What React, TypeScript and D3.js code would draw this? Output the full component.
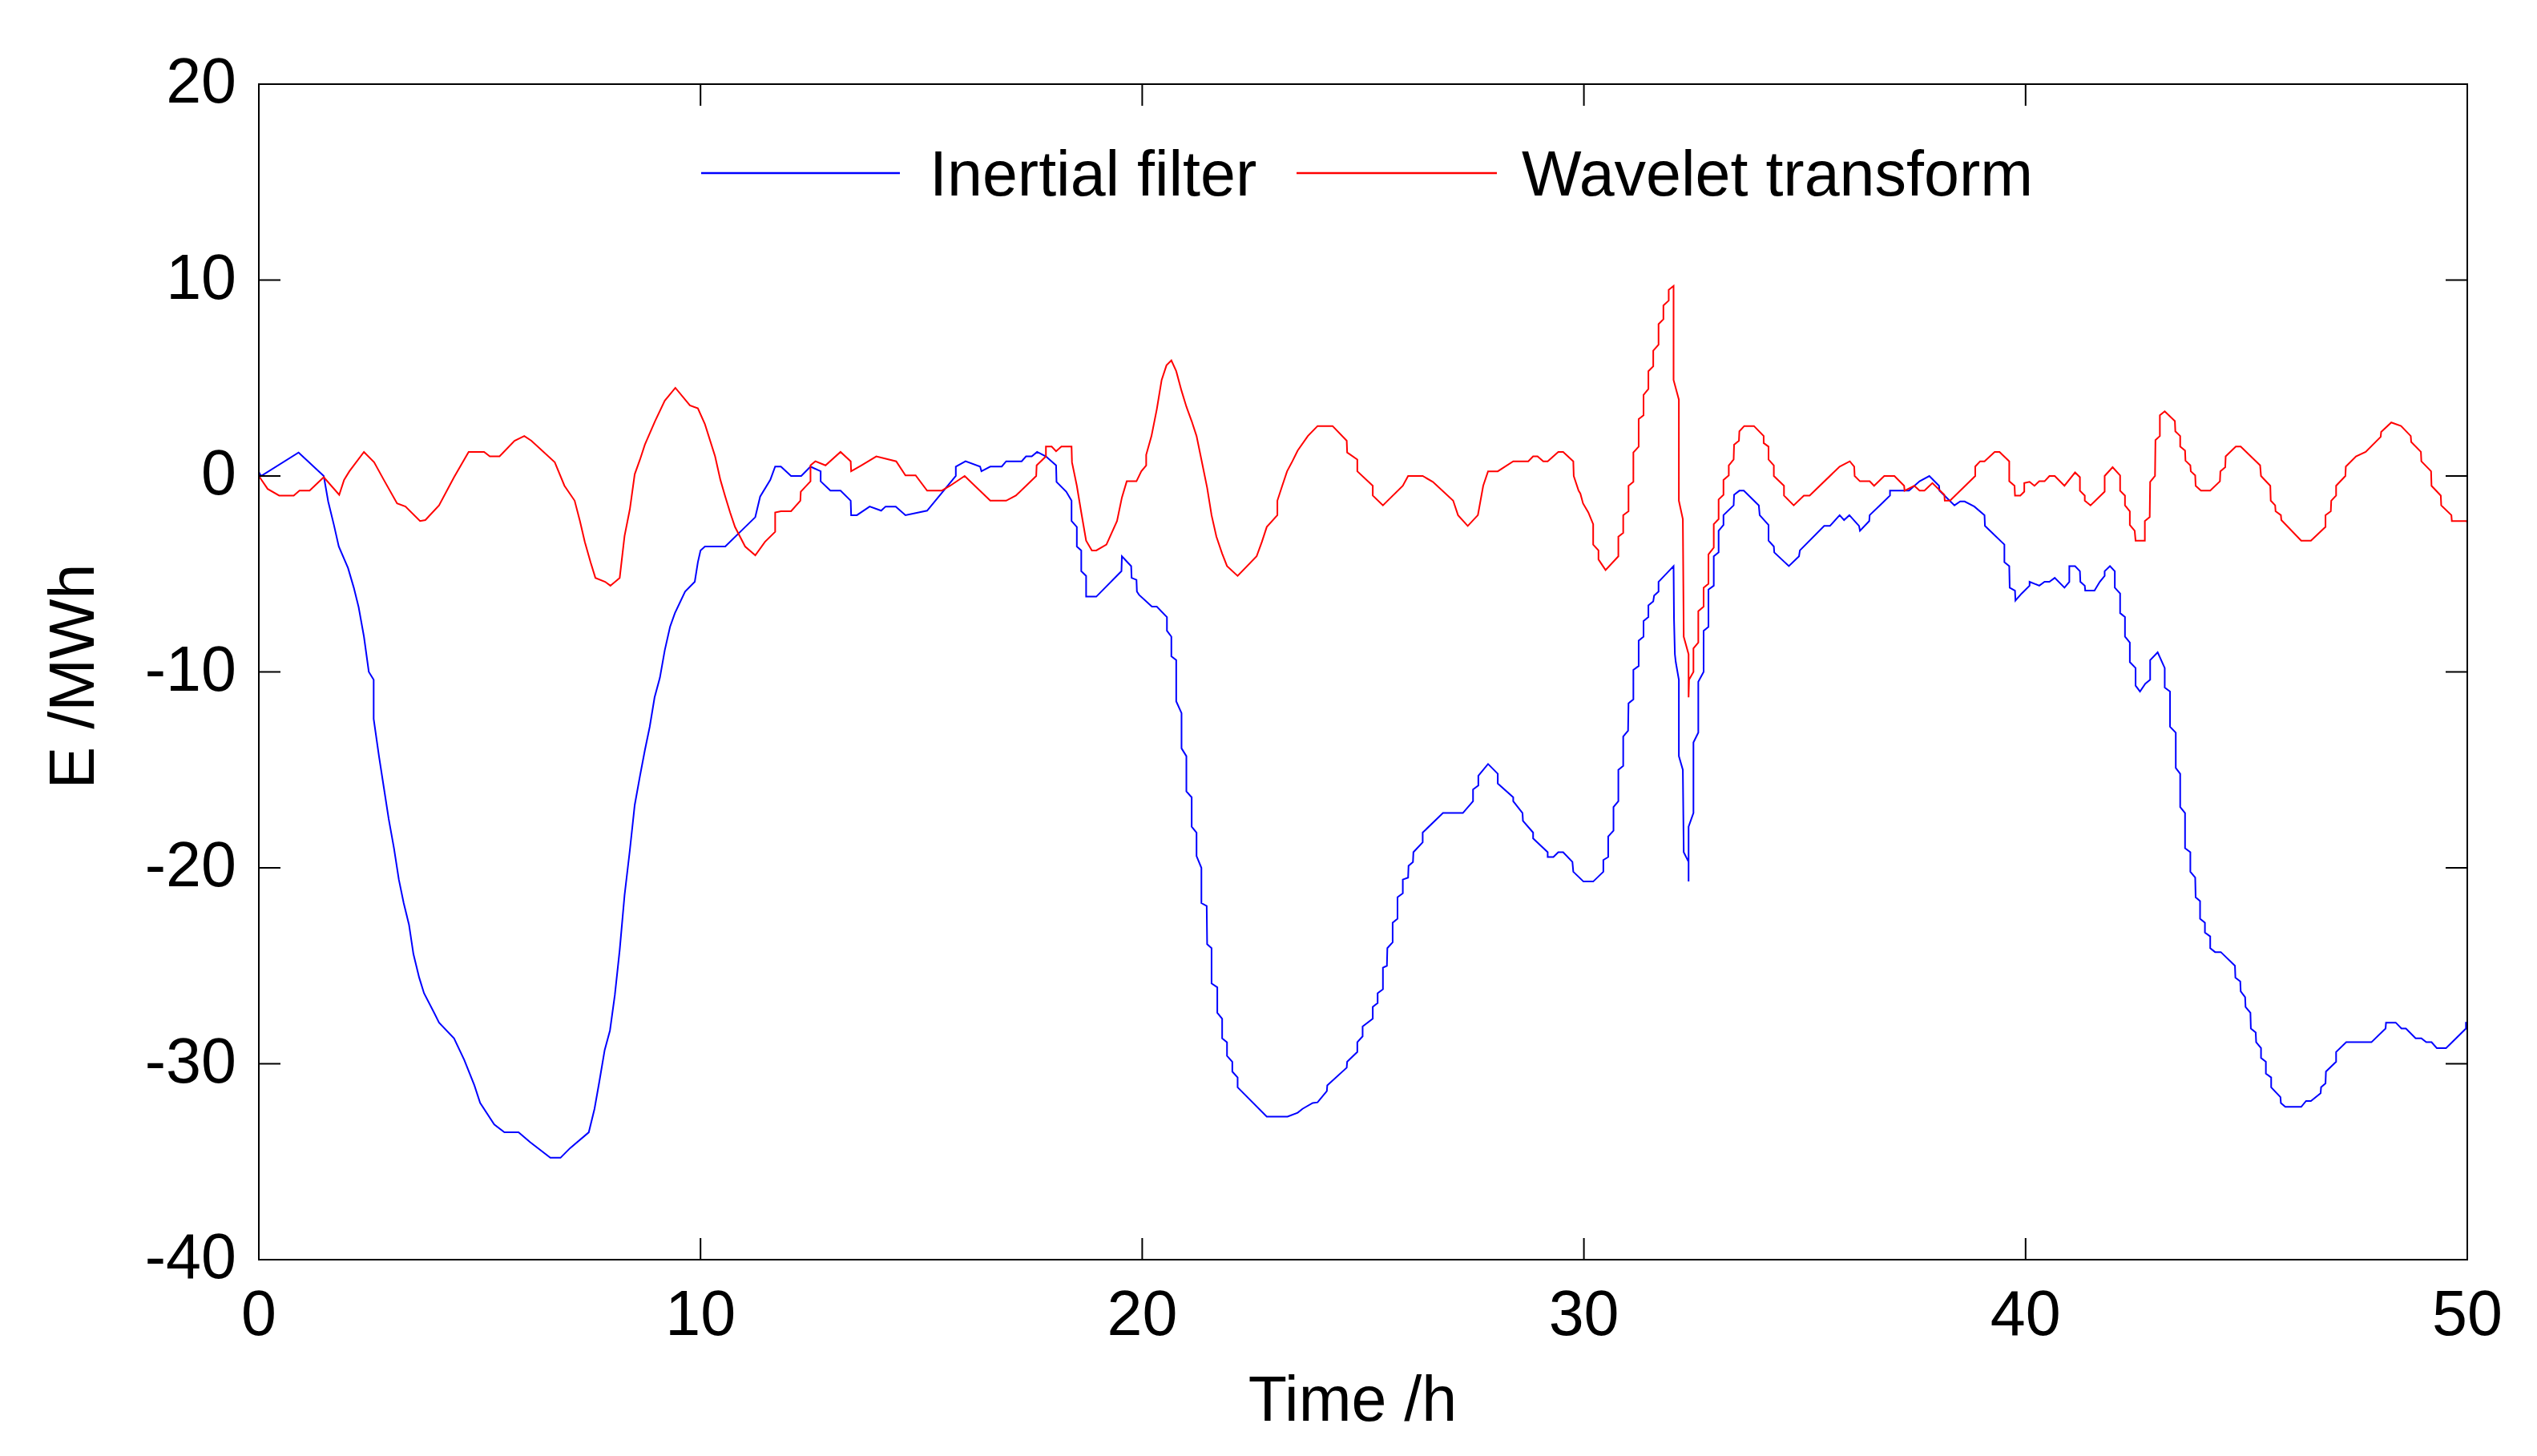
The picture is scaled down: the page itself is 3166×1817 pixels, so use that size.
import React from 'react';
import * as d3 from 'd3';

// Stored energy E (MWh) against time (h): [hour, MWh]
const inertialFilter: [number, number][] = [
  [0, 0.2], [0.05, 0], [0.9, 1.2], [1.47, 0], [1.57, -1.3], [1.7, -2.5], [1.81, -3.6], [2.02, -4.7],
  [2.15, -5.7], [2.26, -6.7], [2.38, -8.2], [2.49, -10], [2.6, -10.4], [2.6, -12.4], [2.72, -14.3],
  [2.83, -15.9], [2.94, -17.5], [3.06, -19], [3.17, -20.6], [3.28, -21.8], [3.4, -22.9], [3.5, -24.4],
  [3.63, -25.6], [3.74, -26.4], [3.97, -27.4], [4.08, -27.9], [4.42, -28.7], [4.65, -29.8], [4.88, -31.1],
  [5.01, -32], [5.33, -33.1], [5.56, -33.5], [5.88, -33.5], [6.14, -34], [6.6, -34.8], [6.83, -34.8],
  [7.05, -34.3], [7.47, -33.5], [7.6, -32.3], [7.71, -30.9], [7.83, -29.3], [7.95, -28.3], [8.06, -26.5],
  [8.17, -24.2], [8.28, -21.4], [8.4, -19.1], [8.51, -16.8], [8.63, -15.3], [8.74, -14], [8.85, -12.8],
  [8.96, -11.3], [9.08, -10.3], [9.19, -8.9], [9.31, -7.7], [9.42, -7], [9.65, -5.9], [9.87, -5.4],
  [9.94, -4.4], [10.0, -3.8], [10.1, -3.6], [10.56, -3.6], [11.24, -2.1], [11.35, -1.05], [11.58, -0.2],
  [11.69, 0.48], [11.82, 0.48], [12.05, 0], [12.28, 0], [12.49, 0.48], [12.72, 0.24], [12.72, -0.27],
  [12.94, -0.75], [13.17, -0.75], [13.4, -1.26], [13.41, -2], [13.54, -2], [13.83, -1.56], [14.09, -1.77],
  [14.19, -1.56], [14.42, -1.56], [14.64, -2], [15.13, -1.77], [15.78, 0], [15.78, 0.48], [16.0, 0.75],
  [16.33, 0.48], [16.36, 0.24], [16.56, 0.48], [16.82, 0.48], [16.92, 0.75], [17.27, 0.75], [17.37, 1.0],
  [17.5, 1.0], [17.62, 1.23], [17.82, 1.0], [18.05, 0.54], [18.06, -0.3], [18.28, -0.8], [18.4, -1.26],
  [18.4, -2.3], [18.52, -2.6], [18.52, -3.6], [18.62, -3.8], [18.62, -4.86], [18.73, -5.1], [18.73, -6.16],
  [18.96, -6.16], [19.53, -4.86], [19.54, -4.1], [19.75, -4.6], [19.76, -5.2], [19.87, -5.3], [19.88, -5.9],
  [19.93, -6.07], [20.22, -6.67], [20.33, -6.67], [20.56, -7.2], [20.56, -7.9], [20.66, -8.2], [20.66, -9.2],
  [20.77, -9.4], [20.77, -11.5], [20.89, -12.1], [20.89, -13.9], [21.0, -14.3], [21.0, -16.1], [21.12, -16.4],
  [21.12, -17.9], [21.23, -18.2], [21.23, -19.4], [21.34, -20], [21.34, -21.8], [21.46, -21.95],
  [21.47, -23.9], [21.57, -24.1], [21.57, -25.9], [21.7, -26.1], [21.7, -27.4], [21.81, -27.7],
  [21.81, -28.7], [21.92, -28.9], [21.92, -29.6], [22.04, -29.9], [22.04, -30.4], [22.16, -30.7],
  [22.16, -31.2], [22.82, -32.7], [23.29, -32.7], [23.52, -32.5], [23.63, -32.3], [23.86, -32.0],
  [23.97, -31.97], [24.18, -31.4], [24.19, -31.1], [24.63, -30.2], [24.64, -29.9], [24.87, -29.4],
  [24.87, -28.9], [24.99, -28.6], [24.99, -28.1], [25.22, -27.7], [25.22, -27.1], [25.33, -26.9],
  [25.33, -26.4], [25.45, -26.2], [25.45, -25.1], [25.54, -25], [25.55, -24.1], [25.67, -23.8],
  [25.67, -22.8], [25.78, -22.6], [25.78, -21.5], [25.9, -21.3], [25.9, -20.6], [26.02, -20.5],
  [26.03, -19.9], [26.13, -19.7], [26.14, -19.2], [26.35, -18.7], [26.35, -18.2], [26.81, -17.2],
  [27.26, -17.2], [27.49, -16.6], [27.49, -16.0], [27.61, -15.8], [27.61, -15.3], [27.83, -14.7],
  [28.05, -15.2], [28.05, -15.7], [28.4, -16.4], [28.4, -16.6], [28.61, -17.2], [28.62, -17.6],
  [28.85, -18.2], [28.85, -18.5], [29.18, -19.2], [29.18, -19.45], [29.31, -19.45], [29.42, -19.2],
  [29.53, -19.2], [29.74, -19.7], [29.76, -20.2], [29.99, -20.7], [30.21, -20.7], [30.44, -20.2],
  [30.44, -19.6], [30.55, -19.45], [30.55, -18.4], [30.67, -18.1], [30.67, -16.9], [30.78, -16.6],
  [30.78, -15], [30.89, -14.8], [30.89, -13.3], [31.0, -13.0], [31.01, -11.6], [31.12, -11.4],
  [31.12, -9.9], [31.24, -9.7], [31.24, -8.4], [31.35, -8.2], [31.35, -7.4], [31.46, -7.2], [31.46, -6.6],
  [31.57, -6.4], [31.59, -6.1], [31.69, -5.9], [31.69, -5.4], [31.92, -4.86], [32.03, -4.6],
  [32.04, -7.3], [32.06, -9.1], [32.08, -9.5], [32.15, -10.4], [32.15, -14.3], [32.24, -15],
  [32.26, -19.2], [32.37, -19.7], [32.37, -20.7], [32.37, -17.9], [32.48, -17.2], [32.48, -13.6],
  [32.59, -13.1], [32.59, -10.5], [32.71, -10], [32.71, -7.9], [32.82, -7.7], [32.82, -5.8],
  [32.94, -5.6], [32.94, -4.1], [33.05, -3.9], [33.05, -2.8], [33.16, -2.5], [33.16, -2.0], [33.39, -1.5],
  [33.4, -0.96], [33.52, -0.75], [33.62, -0.75], [33.96, -1.5], [33.98, -2.0], [34.18, -2.5],
  [34.18, -3.3], [34.3, -3.6], [34.31, -3.9], [34.64, -4.6], [34.87, -4.1], [34.89, -3.8], [35.44, -2.55],
  [35.57, -2.55], [35.79, -2.0], [35.89, -2.25], [36.01, -2.0], [36.23, -2.55], [36.25, -2.8],
  [36.46, -2.3], [36.47, -2.0], [36.7, -1.5], [36.93, -1.0], [36.93, -0.75], [37.36, -0.75], [37.6, -0.27],
  [37.82, 0], [38.04, -0.5], [38.05, -0.75], [38.39, -1.5], [38.52, -1.3], [38.62, -1.3], [38.84, -1.56],
  [39.07, -2.0], [39.08, -2.55], [39.52, -3.5], [39.52, -4.4], [39.63, -4.6], [39.64, -5.7],
  [39.76, -5.85], [39.77, -6.36], [39.91, -6.0], [40.09, -5.6], [40.09, -5.4], [40.31, -5.6],
  [40.43, -5.4], [40.54, -5.4], [40.66, -5.2], [40.88, -5.7], [40.99, -5.4], [40.99, -4.6], [41.12, -4.6],
  [41.23, -4.86], [41.24, -5.4], [41.34, -5.6], [41.35, -5.85], [41.56, -5.85], [41.68, -5.4],
  [41.79, -5.1], [41.79, -4.86], [41.91, -4.6], [42.02, -4.86], [42.02, -5.7], [42.14, -6.0],
  [42.14, -7.0], [42.25, -7.2], [42.25, -8.2], [42.36, -8.5], [42.36, -9.5], [42.49, -9.8],
  [42.49, -10.7], [42.59, -11.0], [42.71, -10.6], [42.82, -10.4], [42.82, -9.4], [42.99, -9.0],
  [43.15, -9.8], [43.15, -10.8], [43.27, -11.0], [43.27, -12.8], [43.4, -13.1], [43.4, -14.9],
  [43.5, -15.2], [43.5, -16.9], [43.61, -17.2], [43.61, -19.0], [43.73, -19.2], [43.73, -20.2],
  [43.84, -20.5], [43.85, -21.5], [43.95, -21.7], [43.95, -22.6], [44.06, -22.8], [44.06, -23.3],
  [44.18, -23.5], [44.18, -24.1], [44.29, -24.3], [44.42, -24.3], [44.74, -25.0], [44.75, -25.6],
  [44.86, -25.8], [44.87, -26.3], [44.97, -26.6], [44.98, -27.1], [45.09, -27.4], [45.1, -28.2],
  [45.21, -28.4], [45.22, -28.9], [45.33, -29.2], [45.33, -29.7], [45.44, -29.9], [45.44, -30.5],
  [45.56, -30.7], [45.56, -31.2], [45.77, -31.7], [45.78, -32.0], [45.88, -32.2], [46.24, -32.2],
  [46.35, -31.9], [46.46, -31.9], [46.68, -31.5], [46.69, -31.2], [46.79, -31.0], [46.8, -30.4],
  [47.03, -29.9], [47.03, -29.4], [47.26, -28.9], [47.83, -28.9], [48.15, -28.2], [48.16, -27.9],
  [48.38, -27.9], [48.51, -28.2], [48.61, -28.2], [48.83, -28.7], [48.96, -28.7], [49.07, -28.9],
  [49.19, -28.9], [49.31, -29.2], [49.52, -29.2], [49.97, -28.2], [49.97, -27.9], [50, -27.9]
];

const waveletTransform: [number, number][] = [
  [0, 0], [0.2, -0.66], [0.46, -1.0], [0.79, -1.0], [0.92, -0.75], [1.15, -0.75], [1.47, -0.06],
  [1.82, -0.96], [1.93, -0.2], [2.05, 0.24], [2.38, 1.23], [2.61, 0.7], [2.83, -0.2], [3.13, -1.4],
  [3.32, -1.56], [3.65, -2.3], [3.77, -2.25], [4.08, -1.5], [4.42, -0.06], [4.75, 1.23], [5.1, 1.23],
  [5.23, 1.0], [5.45, 1.0], [5.79, 1.8], [6.01, 2.04], [6.17, 1.8], [6.7, 0.7], [6.92, -0.5],
  [7.15, -1.26], [7.27, -2.3], [7.38, -3.36], [7.51, -4.4], [7.62, -5.2], [7.84, -5.4], [7.96, -5.6],
  [8.17, -5.2], [8.28, -3.06], [8.4, -1.7], [8.51, 0.09], [8.63, 0.84], [8.74, 1.6], [8.97, 2.8],
  [9.19, 3.84], [9.43, 4.5], [9.76, 3.6], [9.94, 3.45], [10.1, 2.64], [10.33, 1.0], [10.45, -0.2],
  [10.56, -1.05], [10.67, -1.86], [10.78, -2.6], [11.01, -3.6], [11.24, -4.05], [11.46, -3.36],
  [11.69, -2.85], [11.69, -1.86], [11.82, -1.8], [12.05, -1.8], [12.26, -1.26], [12.27, -0.8],
  [12.49, -0.27], [12.49, 0.54], [12.6, 0.75], [12.83, 0.54], [13.17, 1.23], [13.4, 0.75], [13.41, 0.24],
  [13.64, 0.54], [13.98, 1.0], [14.43, 0.75], [14.64, 0.03], [14.87, 0.03], [15.13, -0.75],
  [15.46, -0.75], [15.65, -0.5], [15.98, 0], [16.56, -1.26], [16.92, -1.26], [17.14, -1.0], [17.6, 0],
  [17.61, 0.54], [17.82, 1.0], [17.82, 1.5], [17.95, 1.5], [18.05, 1.26], [18.17, 1.5], [18.4, 1.5],
  [18.41, 0.7], [18.52, -0.5], [18.62, -1.86], [18.73, -3.3], [18.86, -3.8], [18.96, -3.8],
  [19.19, -3.5], [19.43, -2.3], [19.54, -1.1], [19.65, -0.27], [19.87, -0.27], [19.98, 0.24],
  [20.09, 0.54], [20.09, 1.08], [20.21, 2.04], [20.33, 3.4], [20.44, 4.9], [20.55, 5.65], [20.66, 5.9],
  [20.77, 5.35], [20.89, 4.35], [21.0, 3.54], [21.12, 2.8], [21.23, 2.04], [21.34, 0.84], [21.47, -0.6],
  [21.57, -2.0], [21.68, -3.1], [21.81, -3.96], [21.92, -4.6], [22.16, -5.1], [22.59, -4.1],
  [22.71, -3.36], [22.82, -2.6], [23.06, -2.0], [23.06, -1.26], [23.17, -0.5], [23.28, 0.24], [23.4, 0.75],
  [23.52, 1.3], [23.75, 2.04], [23.97, 2.55], [24.31, 2.55], [24.63, 1.8], [24.64, 1.2], [24.87, 0.84],
  [24.87, 0.24], [25.22, -0.5], [25.22, -1.0], [25.45, -1.5], [25.9, -0.5], [26.02, 0], [26.35, 0],
  [26.58, -0.3], [27.04, -1.26], [27.15, -2.0], [27.37, -2.55], [27.6, -2.0], [27.72, -0.5], [27.83, 0.24],
  [28.05, 0.24], [28.4, 0.75], [28.74, 0.75], [28.85, 1.0], [28.95, 1.0], [29.08, 0.75], [29.18, 0.75],
  [29.42, 1.23], [29.53, 1.23], [29.76, 0.75], [29.77, 0], [29.88, -0.75], [29.92, -0.9], [29.98, -1.4],
  [30.1, -1.86], [30.21, -2.46], [30.21, -3.5], [30.33, -3.8], [30.33, -4.26], [30.49, -4.8],
  [30.78, -4.1], [30.78, -3.1], [30.89, -2.9], [30.89, -2.0], [31.01, -1.8], [31.01, -0.5], [31.12, -0.3],
  [31.12, 1.2], [31.24, 1.5], [31.24, 2.9], [31.35, 3.1], [31.35, 4.14], [31.46, 4.44], [31.46, 5.35],
  [31.57, 5.6], [31.57, 6.4], [31.69, 6.7], [31.69, 7.75], [31.8, 8.0], [31.8, 8.7], [31.92, 8.95],
  [31.92, 9.5], [32.03, 9.7], [32.03, 4.9], [32.15, 3.9], [32.15, -1.26], [32.24, -2.2], [32.26, -8.2],
  [32.37, -9.1], [32.37, -11.3], [32.38, -10.4], [32.48, -10.0], [32.48, -8.8], [32.59, -8.5],
  [32.59, -6.9], [32.71, -6.67], [32.71, -5.7], [32.82, -5.5], [32.82, -4.0], [32.94, -3.66],
  [32.94, -2.46], [33.05, -2.2], [33.05, -1.2], [33.16, -0.96], [33.16, -0.2], [33.28, 0.03],
  [33.28, 0.54], [33.39, 0.84], [33.4, 1.6], [33.51, 1.8], [33.52, 2.28], [33.63, 2.55], [33.85, 2.55],
  [34.07, 2.04], [34.07, 1.68], [34.18, 1.5], [34.18, 0.84], [34.3, 0.54], [34.3, 0], [34.53, -0.5],
  [34.53, -1.0], [34.75, -1.5], [34.98, -1.0], [35.11, -1.0], [35.79, 0.48], [36.02, 0.75], [36.12, 0.48],
  [36.13, 0], [36.25, -0.27], [36.47, -0.27], [36.57, -0.5], [36.8, 0], [37.03, 0], [37.25, -0.5],
  [37.26, -0.75], [37.48, -0.5], [37.6, -0.75], [37.71, -0.75], [37.89, -0.36], [38.16, -0.96],
  [38.17, -1.26], [38.29, -1.26], [38.86, 0], [38.86, 0.48], [38.97, 0.75], [39.07, 0.75], [39.3, 1.23],
  [39.41, 1.23], [39.63, 0.75], [39.63, -0.27], [39.75, -0.5], [39.76, -1.0], [39.88, -1.0],
  [39.97, -0.8], [39.97, -0.36], [40.09, -0.3], [40.2, -0.5], [40.31, -0.27], [40.43, -0.27], [40.54, 0],
  [40.66, 0], [40.88, -0.5], [41.12, 0.18], [41.23, -0.06], [41.23, -0.75], [41.34, -1.0], [41.34, -1.26],
  [41.47, -1.5], [41.79, -0.8], [41.79, 0], [41.97, 0.45], [42.14, 0.03], [42.14, -0.75], [42.25, -1.0],
  [42.25, -1.5], [42.36, -1.8], [42.36, -2.5], [42.47, -2.8], [42.49, -3.3], [42.7, -3.3], [42.7, -2.3],
  [42.81, -2.1], [42.82, -0.3], [42.93, 0], [42.94, 1.83], [43.04, 2.04], [43.04, 3.1], [43.15, 3.3],
  [43.38, 2.8], [43.39, 2.28], [43.5, 2.04], [43.5, 1.5], [43.61, 1.3], [43.62, 0.78], [43.73, 0.54],
  [43.74, 0.24], [43.84, 0.03], [43.85, -0.5], [43.97, -0.75], [44.18, -0.75], [44.4, -0.27],
  [44.41, 0.24], [44.52, 0.45], [44.53, 1.0], [44.76, 1.5], [44.87, 1.5], [45.31, 0.54], [45.33, 0],
  [45.54, -0.5], [45.55, -1.26], [45.65, -1.5], [45.66, -1.8], [45.78, -2.0], [45.79, -2.25],
  [46.24, -3.3], [46.46, -3.3], [46.79, -2.6], [46.79, -2.0], [46.91, -1.8], [46.92, -1.26], [47.03, -1.0],
  [47.03, -0.5], [47.24, 0], [47.25, 0.48], [47.48, 1.0], [47.7, 1.23], [48.04, 2.0], [48.05, 2.25],
  [48.28, 2.73], [48.5, 2.55], [48.72, 2.04], [48.73, 1.74], [48.95, 1.23], [48.96, 0.75], [49.18, 0.24],
  [49.19, -0.5], [49.4, -1.0], [49.41, -1.5], [49.64, -2.0], [49.65, -2.3], [49.99, -2.3], [50, -2.4]
];

const xTicks = [0, 10, 20, 30, 40, 50];
const yTicks = [-40, -30, -20, -10, 0, 10, 20];
const seriesNames = ['Inertial filter', 'Wavelet transform'];
const seriesColors = ['#0000ff', '#ff0000'];

const App: React.FC = () => {
  const width = 3166;
  const height = 1817;
  // plot box, MATLAB style
  const left = 323;
  const right = 3079;
  const top = 105;
  const bottom = 1572;
  const tickLen = 27;
  const font = '"Liberation Sans", Arial, sans-serif';
  const fontSize = 79;

  const x = d3.scaleLinear().domain([0, 50]).range([left, right]);
  const y = d3.scaleLinear().domain([-40, 20]).range([bottom, top]);
  const line = d3.line<[number, number]>().x(d => x(d[0])).y(d => y(d[1]));

  return <div style={{ position: 'fixed', left: 0, top: 0, width, height, background: '#fff' }}>
      <svg width={width} height={height} style={{ display: 'block' }} fontFamily={font}>
        <rect x={0} y={0} width={width} height={height} fill="#fff" />
        {/* data */}
        <g fill="none" strokeWidth={2} strokeLinejoin="miter">
          <path d={line(inertialFilter) || ''} stroke={seriesColors[0]} />
          <path d={line(waveletTransform) || ''} stroke={seriesColors[1]} />
        </g>
        {/* box */}
        <rect x={left} y={top} width={right - left} height={bottom - top} fill="none" stroke="#000" strokeWidth={2} />
        {/* ticks, inward on all four sides */}
        <g stroke="#000" strokeWidth={2}>
          {xTicks.map(t => <g key={`xt${t}`}>
              <line x1={x(t)} x2={x(t)} y1={bottom} y2={bottom - tickLen} />
              <line x1={x(t)} x2={x(t)} y1={top} y2={top + tickLen} />
            </g>)}
          {yTicks.map(t => <g key={`yt${t}`}>
              <line x1={left} x2={left + tickLen} y1={y(t)} y2={y(t)} />
              <line x1={right} x2={right - tickLen} y1={y(t)} y2={y(t)} />
            </g>)}
        </g>
        {/* tick labels */}
        <g fontSize={fontSize} fill="#000">
          {xTicks.map(t => <text key={`xl${t}`} x={x(t)} y={1666} textAnchor="middle">{t}</text>)}
          {yTicks.map(t => <text key={`yl${t}`} x={295} y={y(t) + 23} textAnchor="end">{t}</text>)}
        </g>
        {/* axis titles */}
        <text x={1688} y={1773} fontSize={fontSize} textAnchor="middle">Time /h</text>
        <text transform="translate(117,844) rotate(-90)" fontSize={fontSize} textAnchor="middle">E /MWh</text>
        {/* legend */}
        <g fontSize={fontSize}>
          <line x1={875} x2={1123} y1={216} y2={216} stroke={seriesColors[0]} strokeWidth={2.5} />
          <text x={1160} y={244}>{seriesNames[0]}</text>
          <line x1={1618} x2={1868} y1={216} y2={216} stroke={seriesColors[1]} strokeWidth={2.5} />
          <text x={1899} y={244}>{seriesNames[1]}</text>
        </g>
      </svg>
    </div>;
};

export default App;
